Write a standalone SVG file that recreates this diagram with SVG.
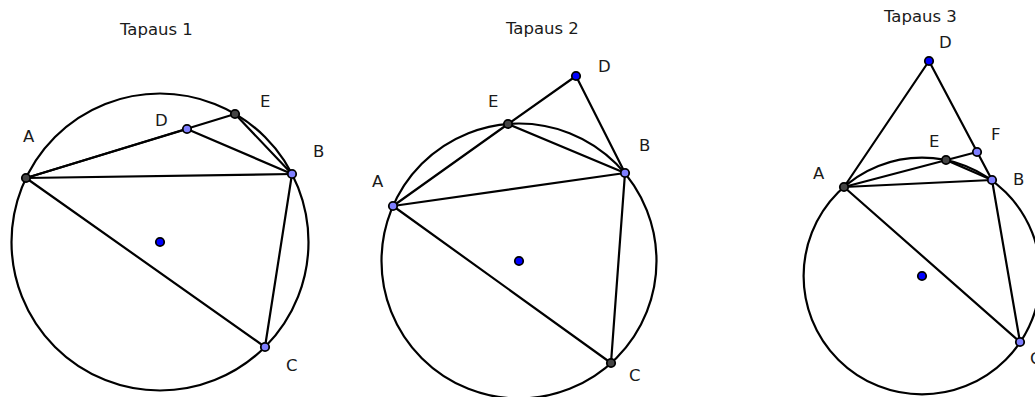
<svg xmlns="http://www.w3.org/2000/svg" width="1035" height="397" viewBox="0 0 1035 397">
<style>
text{font-family:"DejaVu Sans","Liberation Sans",sans-serif;font-size:16.5px;fill:#1a1a1a}
.ln{stroke:#000;stroke-width:2.2;fill:none;stroke-linecap:round}
.pt{stroke:#000;stroke-width:1.8}
.lb{fill:#7f7fff}
.dk{fill:#444444}
.bl{fill:#0000ff}
</style>
<rect width="1035" height="397" fill="#ffffff"/>
<g id="titles">
<text x="120" y="35">Tapaus 1</text>
<text x="506" y="34">Tapaus 2</text>
<text x="884" y="22">Tapaus 3</text>
</g>
<g id="connectors">
<circle class="ln" cx="160" cy="242" r="148.5"/>
<line class="ln" x1="26" y1="178" x2="235" y2="114"/>
<line class="ln" x1="26" y1="178" x2="187" y2="129"/>
<line class="ln" x1="187" y1="129" x2="292" y2="174"/>
<line class="ln" x1="235" y1="114" x2="292" y2="174"/>
<line class="ln" x1="26" y1="178" x2="292" y2="174"/>
<line class="ln" x1="26" y1="178" x2="265" y2="347"/>
<line class="ln" x1="292" y1="174" x2="265" y2="347"/>

<circle class="ln" cx="519" cy="261" r="137.5"/>
<line class="ln" x1="393" y1="206" x2="508" y2="124"/>
<line class="ln" x1="508" y1="124" x2="576" y2="76"/>
<line class="ln" x1="576" y1="76" x2="625" y2="173"/>
<line class="ln" x1="508" y1="124" x2="625" y2="173"/>
<line class="ln" x1="393" y1="206" x2="625" y2="173"/>
<line class="ln" x1="393" y1="206" x2="611" y2="363"/>
<line class="ln" x1="625" y1="173" x2="611" y2="363"/>

<circle class="ln" cx="922" cy="276" r="118.4"/>
<line class="ln" x1="844" y1="187" x2="929" y2="61"/>
<line class="ln" x1="929" y1="61" x2="992" y2="180"/>
<line class="ln" x1="844" y1="187" x2="977" y2="152"/>
<line class="ln" x1="946" y1="160" x2="992" y2="180" stroke-width="2.8"/>
<line class="ln" x1="844" y1="187" x2="992" y2="180"/>
<line class="ln" x1="844" y1="187" x2="1020" y2="342"/>
<line class="ln" x1="992" y1="180" x2="1020" y2="342"/>
</g>
<g id="p1-O"><circle class="pt bl" cx="160" cy="242" r="4.2"/></g>
<g id="p1-A"><circle class="pt dk" cx="26" cy="178" r="4.2"/><text x="23" y="142">A</text></g>
<g id="p1-D"><circle class="pt lb" cx="187" cy="129" r="4.2"/><text x="155" y="126">D</text></g>
<g id="p1-E"><circle class="pt dk" cx="235" cy="114" r="4.2"/><text x="260" y="107">E</text></g>
<g id="p1-B"><circle class="pt lb" cx="292" cy="174" r="4.2"/><text x="313" y="157">B</text></g>
<g id="p1-C"><circle class="pt lb" cx="265" cy="347" r="4.2"/><text x="286" y="371">C</text></g>

<g id="p2-O"><circle class="pt bl" cx="519" cy="261" r="4.2"/></g>
<g id="p2-A"><circle class="pt lb" cx="393" cy="206" r="4.2"/><text x="372" y="187">A</text></g>
<g id="p2-E"><circle class="pt dk" cx="508" cy="124" r="4.2"/><text x="488" y="107">E</text></g>
<g id="p2-D"><circle class="pt bl" cx="576" cy="76" r="4.2"/><text x="598" y="72">D</text></g>
<g id="p2-B"><circle class="pt lb" cx="625" cy="173" r="4.2"/><text x="639" y="151">B</text></g>
<g id="p2-C"><circle class="pt dk" cx="611" cy="363" r="4.2"/><text x="629" y="381">C</text></g>

<g id="p3-O"><circle class="pt bl" cx="922" cy="276" r="4.2"/></g>
<g id="p3-A"><circle class="pt dk" cx="844" cy="187" r="4.2"/><text x="813" y="179">A</text></g>
<g id="p3-D"><circle class="pt bl" cx="929" cy="61" r="4.2"/><text x="939" y="48">D</text></g>
<g id="p3-F"><circle class="pt lb" cx="977" cy="152" r="4.2"/><text x="991" y="140">F</text></g>
<g id="p3-E"><circle class="pt dk" cx="946" cy="160" r="4.2"/><text x="929" y="147">E</text></g>
<g id="p3-B"><circle class="pt lb" cx="992" cy="180" r="4.2"/><text x="1013" y="185">B</text></g>
<g id="p3-C"><circle class="pt lb" cx="1020" cy="342" r="4.2"/><text x="1030" y="364">C</text></g>
</svg>
